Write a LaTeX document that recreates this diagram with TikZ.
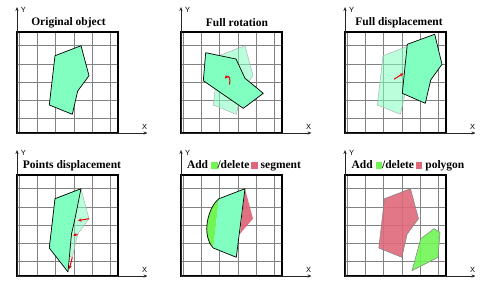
\documentclass[tikz,border=0pt]{standalone}
\usepackage{fontspec}
\setmainfont{Liberation Serif}
\setsansfont{Liberation Sans}
\usetikzlibrary{arrows.meta}

\definecolor{mint}{RGB}{128,255,192}
\definecolor{addgreen}{RGB}{112,245,84}
\definecolor{delred}{RGB}{222,104,122}
\definecolor{gridgray}{RGB}{130,130,130}

\newcommand{\swatch}[1]{\textcolor{#1}{\rule[-0.2pt]{6.5pt}{6.5pt}}}

\begin{document}
\begin{tikzpicture}[x=1pt, y=-1pt,
    gridline/.style={gridgray, line width=0.9pt},
    boxframe/.style={black, line width=1.4pt},
    axisline/.style={-{Stealth[length=4pt,width=3.2pt]}, black!85, line width=0.8pt},
    axislabel/.style={font=\sffamily\fontsize{7.5}{8}\selectfont, inner sep=0pt},
    paneltitle/.style={font=\bfseries\fontsize{11.5}{13}\selectfont, inner sep=0pt},
    solidpoly/.style={fill=mint, draw=black, line width=0.7pt, line join=round},
    ghostpoly/.style={fill=mint, fill opacity=0.55, draw=gray!60, line width=0.5pt},
    redarrow/.style={-{Stealth[length=3.5pt,width=3.2pt]}, red!90!black, line width=1pt}]
  \useasboundingbox (0,0) rectangle (490,287);

  % Grids
  \foreach \px/\py in {17/32, 181/32, 345/32, 17/175, 181/175, 345/175} {
    \begin{scope}[shift={(\px,\py)}]
      \foreach \gx in {2.3,20.6,38.9,57.2,75.5,93.8}
        \draw[gridline] (\gx,0) -- (\gx,101);
      \foreach \gy in {13.7,32,50.3,68.6,86.9}
        \draw[gridline] (0,\gy) -- (101,\gy);
    \end{scope}
  }

  % Original object
  \begin{scope}[shift={(17,32)}]
    \draw[solidpoly] (38,23.7) -- (64,13.7) -- (72,43.7) -- (60.7,59) -- (55.3,82.3) -- (32.3,73) -- cycle;
  \end{scope}

  % Full rotation
  \begin{scope}[shift={(181,32)}]
    \draw[ghostpoly] (38,23.7) -- (64,13.7) -- (72,43.7) -- (60.7,59) -- (55.3,82.3) -- (32.3,73) -- cycle;
    \draw[solidpoly] (24.7,20.7) -- (55,27) -- (64,46.3) -- (82.3,61.3) -- (62.3,76.3) -- (22.3,48.7) -- cycle;
    \coordinate (r2a) at (48.5,52.5);
    \coordinate (r2b) at (43.8,46.6);
    \draw[redarrow] (r2a) .. controls (50,46.5) and (47.5,42.5) .. (r2b);
  \end{scope}

  % Full displacement
  \begin{scope}[shift={(345,32)}]
    \draw[ghostpoly] (38,23.7) -- (64,13.7) -- (72,43.7) -- (60.7,59) -- (55.3,82.3) -- (32.3,73) -- cycle;
    \draw[solidpoly] (62.3,12.3) -- (89.7,2.3) -- (97,32.3) -- (85.7,48) -- (80.3,71.3) -- (57.3,61.3) -- cycle;
    \coordinate (d3a) at (49,47.3);
    \coordinate (d3b) at (58.3,41.3);
    \draw[redarrow] (d3a) -- (d3b);
  \end{scope}

  % Points displacement
  \begin{scope}[shift={(17,175)}]
    \draw[ghostpoly] (38,23.7) -- (64,13.7) -- (72,43.7) -- (60.7,59) -- (55.3,82.3) -- (32.3,73) -- cycle;
    \draw[solidpoly] (38,23.7) -- (64,13.7) -- (57.5,46) -- (54.5,59) -- (51,97) -- (32.3,73) -- cycle;
    \coordinate (p4a) at (72,43.7);   \coordinate (p4b) at (61,45.6);
    \coordinate (p4c) at (60.7,59.6); \coordinate (p4d) at (56,60.2);
    \coordinate (p4e) at (55.3,82.3); \coordinate (p4f) at (52.3,94);
    \draw[redarrow] (p4a) -- (p4b);
    \draw[redarrow] (p4c) -- (p4d);
    \draw[redarrow] (p4e) -- (p4f);
  \end{scope}

  % Add/delete segment
  \begin{scope}[shift={(181,175)}]
    \fill[delred, opacity=0.95] (64,13.7) -- (72,43.7) -- (59,58.8) -- cycle;
    \fill[addgreen] (38,23.7) .. controls (27,32) and (20,60) .. (32.3,73) -- cycle;
    \fill[mint] (38,23.7) -- (64,13.7) -- (55.3,82.3) -- (32.3,73) -- cycle;
    \draw[black, line width=0.7pt, line join=round] (32.3,73) .. controls (20,60) and (27,32) .. (38,23.7)
      -- (64,13.7) -- (55.3,82.3) -- cycle;
  \end{scope}

  % Add/delete polygon
  \begin{scope}[shift={(345,175)}]
    \draw[fill=delred, fill opacity=0.9, draw=gray, line width=0.5pt]
      (39.5,23.7) -- (65.5,13.7) -- (73.5,43.7) -- (62.2,59) -- (56.8,82.3) -- (33.8,73) -- cycle;
    \draw[fill=addgreen, fill opacity=0.9, draw=gray, line width=0.5pt]
      (67,95.7) -- (75.7,63.7) -- (89,53.7) -- (95,57.3) -- (93,82.3) -- cycle;
  \end{scope}

  % Frames and axes
  \foreach \px/\py/\k in {17/32/1, 181/32/2, 345/32/3, 17/175/4, 181/175/5, 345/175/6} {
    \begin{scope}[shift={(\px,\py)}]
      \draw[boxframe] (0,0) rectangle (101,101);
      \coordinate (o\k) at (0,101);
      \coordinate (ytip\k) at (0,-25);
      \coordinate (xtip\k) at (130.5,101);
      \draw[axisline] (o\k) -- (ytip\k);
      \draw[axisline] (o\k) -- (xtip\k);
      \node[axislabel] (ylab\k) at (6.5,-22) {Y};
      \node[axislabel] (xlab\k) at (127.5,94.5) {X};
    \end{scope}
  }

  % Titles
  \node[paneltitle] (title1) at (68.5,23) {Original object};
  \node[paneltitle] (title2) at (237,23) {Full rotation};
  \node[paneltitle] (title3) at (399,23) {Full displacement};
  \node[paneltitle] (title4) at (72,166) {Points displacement};
  \node[paneltitle] (title5) at (244,166) {Add \swatch{addgreen}/delete\,\swatch{delred} segment};
  \node[paneltitle] (title6) at (408,166) {Add \swatch{addgreen}/delete\,\swatch{delred} polygon};
\end{tikzpicture}
\end{document}
